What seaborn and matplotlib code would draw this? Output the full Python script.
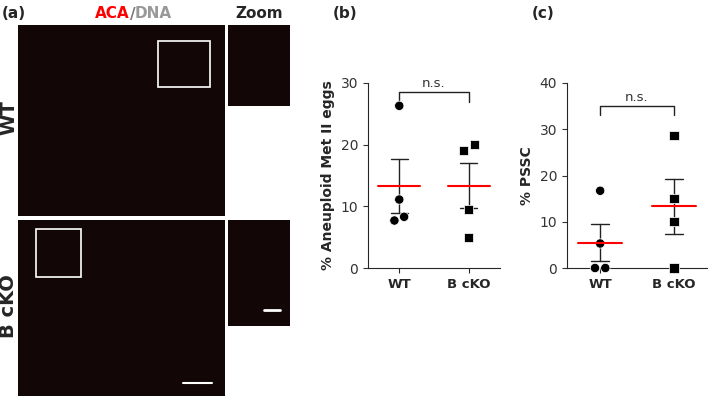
import numpy as np
import pandas as pd
import seaborn as sns
import matplotlib
matplotlib.use("Agg")
import matplotlib.pyplot as plt
from matplotlib.patches import Rectangle

groups = ["WT", "B cKO"]
aneuploid_wt = [26.3, 11.1, 7.7, 8.3]
aneuploid_bcko = [19.0, 20.0, 9.5, 5.0]
pssc_wt = [16.7, 5.3, 0.0, 0.0]
pssc_bcko = [28.6, 15.0, 10.0, 0.0]
# horizontal offsets of overlapping points
jit_b_wt = [0.0, 0.0, -0.07, 0.07]
jit_b_ko = [-0.08, 0.08, 0.0, 0.0]
jit_c_wt = [0.0, 0.0, -0.07, 0.07]
jit_c_ko = [0.0, 0.0, 0.0, 0.0]

sns.set_style("ticks")
W, H = 709, 401
fig = plt.figure(figsize=(W / 100, H / 100), dpi=100)


def px(x0, y0, x1, y1):
    return [x0 / W, 1 - y1 / H, (x1 - x0) / W, (y1 - y0) / H]


# panel (a): image placeholders
for box in [(18, 25, 225, 216), (18, 220, 225, 396), (228, 25, 290, 106), (228, 220, 290, 326)]:
    a = fig.add_axes(px(*box))
    a.set_facecolor("#120606")
    a.set_xticks([]); a.set_yticks([])
    for s in a.spines.values():
        s.set_visible(False)
fig.text(2 / W, 1 - 14 / H, "(a)", fontsize=11, fontweight="bold", va="center")
fig.text(130 / W, 1 - 14 / H, "ACA", color="red", fontsize=11, fontweight="bold", va="center", ha="right")
fig.text(130 / W, 1 - 14 / H, "/", color="#777777", fontsize=11, fontweight="bold", va="center")
fig.text(135 / W, 1 - 14 / H, "DNA", color="#999999", fontsize=11, fontweight="bold", va="center")
fig.text(259 / W, 1 - 14 / H, "Zoom", fontsize=11, fontweight="bold", va="center", ha="center")
fig.text(9 / W, 1 - 118 / H, "WT", fontsize=14, fontweight="bold", rotation=90, va="center", ha="center")
fig.text(9 / W, 1 - 306 / H, "B cKO", fontsize=14, fontweight="bold", rotation=90, va="center", ha="center")
fig.patches.append(Rectangle((158 / W, 1 - 87 / H), 52 / W, 46 / H, fill=False, ec="white", lw=1.2, transform=fig.transFigure))
fig.patches.append(Rectangle((36 / W, 1 - 277 / H), 45 / W, 48 / H, fill=False, ec="white", lw=1.2, transform=fig.transFigure))
fig.lines.append(plt.Line2D([183 / W, 212 / W], [1 - 383 / H] * 2, color="white", lw=1.5, transform=fig.transFigure))
fig.lines.append(plt.Line2D([264 / W, 280 / W], [1 - 310 / H] * 2, color="white", lw=2, transform=fig.transFigure))


def scatter_panel(rect, wt, ko, jw, jk, ymax, ystep, ylabel, label, bracket_y):
    ax = fig.add_axes(px(*rect))
    df = pd.DataFrame({
        "x": [0 + j for j in jw] + [1 + j for j in jk],
        "y": wt + ko,
        "g": ["WT"] * 4 + ["B cKO"] * 4,
    })
    sns.scatterplot(data=df, x="x", y="y", style="g", markers={"WT": "o", "B cKO": "s"},
                    color="black", s=45, legend=False, ax=ax, clip_on=False, zorder=3)
    for i, vals in enumerate([wt, ko]):
        m = np.mean(vals)
        se = np.std(vals, ddof=1) / np.sqrt(len(vals))
        ax.plot([i - 0.3, i + 0.3], [m, m], color="red", lw=1.5, zorder=4)
        ax.plot([i, i], [m - se, m + se], color="#222222", lw=1)
        for v in (m - se, m + se):
            ax.plot([i - 0.12, i + 0.12], [v, v], color="#222222", lw=1)
    d = ymax * 0.05
    ax.plot([0, 0, 1, 1], [bracket_y - d, bracket_y, bracket_y, bracket_y - d], color="#222222", lw=1)
    ax.text(0.5, bracket_y + ymax * 0.01, "n.s.", ha="center", va="bottom", fontsize=9.5, color="#333333")
    ax.set_xlim(-0.45, 1.45)
    ax.set_ylim(0, ymax)
    ax.set_yticks(np.arange(0, ymax + 1, ystep))
    ax.set_xticks([0, 1])
    ax.set_xticklabels(groups, fontweight="bold", fontsize=9.5)
    ax.tick_params(axis="y", labelsize=10, colors="#333333")
    ax.set_xlabel("")
    ax.set_ylabel(ylabel, fontweight="bold", fontsize=10)
    sns.despine(ax=ax)
    fig.text((rect[0] - 35) / W, 1 - 14 / H, label, fontsize=11, fontweight="bold", va="center")
    return ax


scatter_panel((368, 83, 500, 268), aneuploid_wt, aneuploid_bcko, jit_b_wt, jit_b_ko, 30, 10,
              "% Aneuploid Met II eggs", "(b)", 28.5)
scatter_panel((567, 83, 707, 268), pssc_wt, pssc_bcko, jit_c_wt, jit_c_ko, 40, 10,
              "% PSSC", "(c)", 35)

fig.savefig("out.png", dpi=100)
